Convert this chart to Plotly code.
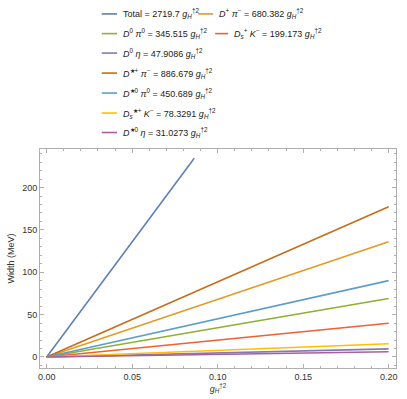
import numpy as np
import plotly.graph_objects as go

# decay channels: width = coefficient * g_H^{†2}
labels = [
    "Total",
    "<i>D</i><sup>+</sup> <i>π</i><sup>−</sup>",
    "<i>D</i><sup>0</sup> <i>π</i><sup>0</sup>",
    "<i>D</i><sub><i>s</i></sub><sup>+</sup> <i>K</i><sup>−</sup>",
    "<i>D</i><sup>0</sup> <i>η</i>",
    "<i>D</i><sup>★+</sup> <i>π</i><sup>−</sup>",
    "<i>D</i><sup>★0</sup> <i>π</i><sup>0</sup>",
    "<i>D</i><sub><i>s</i></sub><sup>★+</sup> <i>K</i><sup>−</sup>",
    "<i>D</i><sup>★0</sup> <i>η</i>",
]
coef_text = ["2719.7", "680.382", "345.515", "199.173", "47.9086",
             "886.679", "450.689", "78.3291", "31.0273"]
coefs = [float(c) for c in coef_text]
g2_max = 0.2        # right end of the g_H^{†2} range
width_clip = 234.7  # plot range cut-off (MeV)

colors = ["#5E81B5", "#E19C24", "#8FB032", "#EB6235", "#8778B3",
          "#C56E1A", "#5D9EC7", "#FFBF00", "#A5609D"]

FONT = "Liberation Sans"
W, H = 407, 399
L, R, T, B = 40, 395.7, 148.5, 367.7   # plot box in pixels

fig = go.Figure()
for c, col in zip(coefs, colors):
    x_end = min(g2_max, width_clip / c)
    x = np.array([0.0, x_end])
    fig.add_trace(go.Scatter(x=x, y=c * x, mode="lines",
                             line=dict(color=col, width=1.6),
                             showlegend=False, hoverinfo="skip"))

# hand-built legend (Mathematica style, grid of rows)
def px(xp):
    return (xp - L) / (R - L)

def py(yp):
    return (B - yp) / (B - T)

g_sym = " <i>g</i><sub><i>H</i></sub><sup>†2</sup>"
# (row y, line x0, line x1, text x)
slots = [
    (13.3, 101.7, 117, 121),
    (13.3, 198, 213, 217),
    (33, 101.7, 117, 121),
    (33, 215, 228, 232),
    (52.5, 101.7, 117, 121),
    (72.5, 101.7, 117, 121),
    (92.5, 101.7, 117, 121),
    (112.5, 101.7, 117, 121),
    (132, 101.7, 117, 121),
]
for (yy, x0, x1, xt), lab, ct, col in zip(slots, labels, coef_text, colors):
    fig.add_shape(type="line", xref="paper", yref="paper",
                  x0=px(x0), x1=px(x1), y0=py(yy), y1=py(yy),
                  line=dict(color=col, width=1.6))
    fig.add_annotation(xref="paper", yref="paper", x=px(xt), y=py(yy),
                       xanchor="left", yanchor="middle", showarrow=False,
                       text=f"{lab} = {ct}{g_sym}",
                       font=dict(family=FONT, size=9, color="#222"))

axis_common = dict(
    showline=True, linecolor="#B0B0B0", linewidth=1, mirror="ticks",
    ticks="inside", tickcolor="#B0B0B0", ticklen=4,
    showgrid=False, zeroline=False, automargin=False,
    tickfont=dict(family=FONT, size=9, color="#333"),
)
fig.update_xaxes(range=[-0.0039, 0.2043], dtick=0.05, tick0=0, tickformat=".2f",
                 minor=dict(ticks="inside", dtick=0.01, ticklen=2, tickcolor="#B0B0B0"),
                 title=dict(text="<i>g</i><sub><i>H</i></sub><sup>†2</sup>",
                            font=dict(family=FONT, size=9, color="#333"), standoff=3),
                 **axis_common)
fig.update_yaxes(range=[-13, 245.5], dtick=50, tick0=0,
                 minor=dict(ticks="inside", dtick=10, ticklen=2, tickcolor="#B0B0B0"),
                 title=dict(text="Width (MeV)",
                            font=dict(family=FONT, size=9, color="#333"), standoff=6),
                 **axis_common)

fig.update_layout(
    width=W, height=H,
    margin=dict(l=L, r=W - R, t=T, b=H - B),
    plot_bgcolor="white", paper_bgcolor="white",
)
# drop the default page margin so the figure sits at the window's corner
fig.write_html("out.html", config={"displayModeBar": False},
               post_script="document.body.style.margin='0';")
